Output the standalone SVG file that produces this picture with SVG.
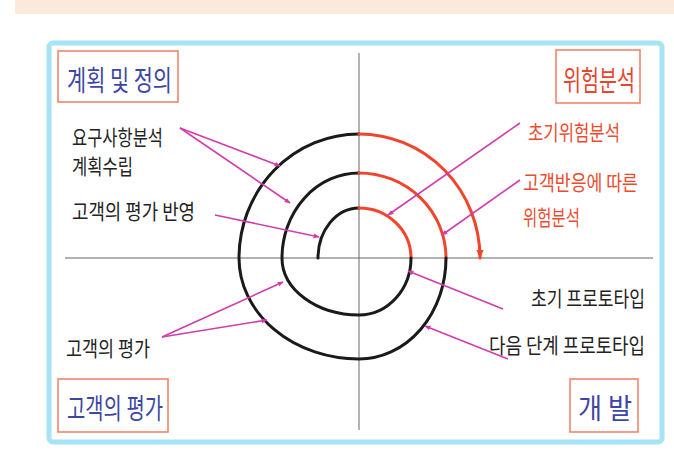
<svg xmlns="http://www.w3.org/2000/svg" width="674" height="454" viewBox="0 0 674 454">
<defs>
<marker id="mh" viewBox="0 0 10 10" refX="9" refY="5" markerWidth="6" markerHeight="6" orient="auto" markerUnits="userSpaceOnUse"><path d="M0,1 L10,5 L0,9 z" fill="#d23cae"/></marker>
<marker id="rh" viewBox="0 0 10 10" refX="9" refY="5" markerWidth="9" markerHeight="9" orient="auto" markerUnits="userSpaceOnUse"><path d="M0,1 L10,5 L0,9 z" fill="#f0452a"/></marker>
<style>
.t{font-family:"Noto Sans CJK KR","Noto Sans",sans-serif;dominant-baseline:central}
.lb{font-size:21px;fill:#222}
.lr{font-size:21px;fill:#ee4a2e}
.hb{font-size:28px;fill:#3e46a4}
.hr{font-size:28px;fill:#e8452e}
.box{fill:#fff;stroke:#f0846a;stroke-width:1.6}
.blk{fill:none;stroke:#1a1a1a;stroke-width:3;stroke-linecap:round}
.red{fill:none;stroke:#f0452a;stroke-width:3;stroke-linecap:round}
.ax{stroke:#666;stroke-width:1}
.ar{fill:none;stroke:#d23cae;stroke-width:1.6}
</style>
</defs>
<rect x="0" y="0" width="674" height="454" fill="#fff"/>
<rect x="15" y="0" width="659" height="14" fill="#fde9dc"/>
<rect x="49" y="43" width="613" height="399" rx="4" fill="#fff" stroke="#a6e3f6" stroke-width="5"/>
<g id="axes">
<line class="ax" x1="65" y1="258" x2="653" y2="258"/>
<line class="ax" x1="359" y1="53" x2="359" y2="430"/>
</g>
<g id="spiral">
<path class="blk" d="M318,258 A41,50 0 0 1 359,208"/>
<path class="red" d="M359,208 A52,50 0 0 1 411,258"/>
<path class="blk" d="M411,258 A52,57 0 0 1 359,315 A77,57 0 0 1 282,258 A77,85 0 0 1 359,173"/>
<path class="red" d="M359,173 A87,85 0 0 1 446,258"/>
<path class="blk" d="M446,258 A87,101 0 0 1 359,359 A120,101 0 0 1 239,258 A120,124 0 0 1 359,134"/>
<path class="red" d="M359,134 A121,124 0 0 1 480,258" marker-end="url(#rh)"/>
</g>
<g id="connectors">
<line class="ar" x1="180" y1="128" x2="280" y2="166" marker-end="url(#mh)"/>
<line class="ar" x1="180" y1="128" x2="290" y2="203" marker-end="url(#mh)"/>
<line class="ar" x1="215" y1="215" x2="319" y2="237" marker-end="url(#mh)"/>
<line class="ar" x1="162" y1="337" x2="283" y2="282" marker-end="url(#mh)"/>
<line class="ar" x1="162" y1="337" x2="267" y2="320" marker-end="url(#mh)"/>
<line class="ar" x1="520" y1="123" x2="388" y2="215" marker-end="url(#mh)"/>
<line class="ar" x1="520" y1="180" x2="442" y2="235" marker-end="url(#mh)"/>
<line class="ar" x1="503" y1="309" x2="408" y2="271" marker-end="url(#mh)"/>
<line class="ar" x1="508" y1="359" x2="425" y2="326" marker-end="url(#mh)"/>
</g>
<g id="plan">
<rect class="box" x="58" y="51" width="120" height="51"/>
<text class="t hb" x="67" y="79" textLength="105" lengthAdjust="spacingAndGlyphs">계획 및 정의</text>
</g>
<g id="risk">
<rect class="box" x="556" y="50" width="84" height="53"/>
<text class="t hr" x="563" y="79" textLength="72" lengthAdjust="spacingAndGlyphs">위험분석</text>
</g>
<g id="eval">
<rect class="box" x="58" y="379" width="110" height="53"/>
<text class="t hb" x="67" y="407" textLength="96" lengthAdjust="spacingAndGlyphs">고객의 평가</text>
</g>
<g id="dev">
<rect class="box" x="570" y="379" width="68" height="53"/>
<text class="t hb" x="578" y="407" textLength="54" lengthAdjust="spacingAndGlyphs">개 발</text>
</g>
<g id="labels">
<text class="t lb" x="72" y="136" textLength="91" lengthAdjust="spacingAndGlyphs">요구사항분석</text>
<text class="t lb" x="72" y="165" textLength="61" lengthAdjust="spacingAndGlyphs">계획수립</text>
<text class="t lb" x="72" y="210" textLength="123" lengthAdjust="spacingAndGlyphs">고객의 평가 반영</text>
<text class="t lb" x="66" y="347" textLength="84" lengthAdjust="spacingAndGlyphs">고객의 평가</text>
<text class="t lr" x="528" y="131" textLength="92" lengthAdjust="spacingAndGlyphs">초기위험분석</text>
<text class="t lr" x="523" y="181" textLength="115" lengthAdjust="spacingAndGlyphs">고객반응에 따른</text>
<text class="t lr" x="523" y="216" textLength="57" lengthAdjust="spacingAndGlyphs">위험분석</text>
<text class="t lb" x="531" y="297" textLength="114" lengthAdjust="spacingAndGlyphs">초기 프로토타입</text>
<text class="t lb" x="489" y="344" textLength="156" lengthAdjust="spacingAndGlyphs">다음 단계 프로토타입</text>
</g>
</svg>
